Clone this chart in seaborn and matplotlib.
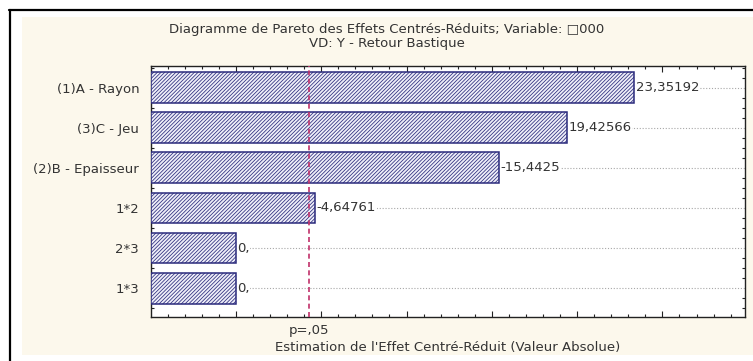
import matplotlib
matplotlib.use("Agg")
import matplotlib.pyplot as plt
import matplotlib.patches as mpatches
import matplotlib.lines as mlines
from matplotlib.ticker import MultipleLocator
import seaborn as sns
import pandas as pd
import numpy as np

# Effects from the fitted model (signed), largest first
factors = ["(1)A - Rayon", "(3)C - Jeu", "(2)B - Epaisseur", "1*2", "2*3", "1*3"]
effects = [23.35192, 19.42566, -15.4425, -4.64761, 0.0, 0.0]
value_labels = ["23,35192", "19,42566", "-15,4425", "-4,64761", "0,", "0,"]

# Critical t value for p = .05
p_critical = 4.303
p_label = "p=,05"

title_lines = [
    "Diagramme de Pareto des Effets Centrés-Réduits; Variable: \u25a1000",
    "VD: Y - Retour Bastique",
]
x_title = "Estimation de l'Effet Centré-Réduit (Valeur Absolue)"

df = pd.DataFrame({"factor": factors, "abs_effect": np.abs(effects)})

sns.set_theme(style="white")
plt.rcParams["font.family"] = ["DejaVu Sans"]
plt.rcParams["hatch.linewidth"] = 0.55

TEXT = "#333333"
NAVY = "#2a2a7c"
FS = 9.5

W, H = 753, 361
fig = plt.figure(figsize=(W / 100, H / 100), dpi=100)
fig.patch.set_facecolor("white")

# cream panel and the dark frame lines around the chart window
fig.add_artist(mpatches.Rectangle((22 / W, 1 - 355 / H), (W - 22) / W, (355 - 17) / H,
                                  transform=fig.transFigure, facecolor="#fcf8ec",
                                  edgecolor="none", zorder=-5))
fig.add_artist(mlines.Line2D([9 / W, 1], [1 - 10 / H] * 2, transform=fig.transFigure,
                             color="black", lw=1.6, zorder=-4))
fig.add_artist(mlines.Line2D([10 / W] * 2, [0, 1 - 10 / H], transform=fig.transFigure,
                             color="black", lw=1.6, zorder=-4))

ax = fig.add_axes([151 / W, 1 - 317 / H, (745 - 151) / W, (317 - 66) / H])
ax.set_facecolor("white")

xmin, xmax = -4.98, 29.84

sns.barplot(data=df, y="factor", x="abs_effect", orient="h", ax=ax,
            color="#eeeef8", saturation=1, edgecolor=NAVY, linewidth=1.1,
            hatch="/" * 9, width=0.77, zorder=3)

# bars are anchored on the left edge of the axis, ending at their value
for bar in ax.patches:
    right = bar.get_x() + bar.get_width()
    bar.set_x(xmin)
    bar.set_width(right - xmin)

ax.set_xlim(xmin, xmax)
ax.set_ylim(len(factors) - 1 + 0.72, -0.54)

# dotted guide lines through each bar row
ax.hlines(range(len(factors)), xmin, xmax, colors="#a8a8a8",
          linestyles=(0, (1, 1.6)), lw=0.8, zorder=1)

# value labels at the end of each bar
for i, (v, lab) in enumerate(zip(effects, value_labels)):
    ax.text(abs(v) + 0.08, i, lab, ha="left", va="center", fontsize=FS, color=TEXT,
            zorder=4, bbox=dict(facecolor="white", edgecolor="none", pad=0.4))

# significance threshold
ax.axvline(p_critical, color="#c0306a", ls=(0, (3, 2)), lw=1.2, zorder=5)
ax.annotate(p_label, xy=(p_critical, 0), xycoords=("data", "axes fraction"),
            xytext=(0, -9.5), textcoords="offset points", ha="center", va="center",
            fontsize=FS, color=TEXT, annotation_clip=False)

ax.set_xlabel("")
ax.set_ylabel("")

ax.xaxis.set_major_locator(MultipleLocator(5))
ax.xaxis.set_minor_locator(MultipleLocator(1))
ax.yaxis.set_minor_locator(MultipleLocator(0.25))
ax.tick_params(axis="x", which="both", direction="in", top=True, bottom=True,
               labelbottom=False, color="#222222", width=0.8)
ax.tick_params(axis="x", which="major", length=4)
ax.tick_params(axis="x", which="minor", length=2.5)
ax.tick_params(axis="y", which="both", direction="in", left=True, right=True,
               color="#222222", width=0.8)
ax.tick_params(axis="y", which="major", length=0, labelsize=FS, labelcolor=TEXT, pad=8.5)
ax.tick_params(axis="y", which="minor", length=2.5)

for s in ax.spines.values():
    s.set_color("#222222")
    s.set_linewidth(1.0)
    s.set_visible(True)

fig.text(387 / W, 1 - 30 / H, title_lines[0], ha="center", va="center",
         fontsize=FS, color=TEXT)
fig.text(387 / W, 1 - 44 / H, title_lines[1], ha="center", va="center",
         fontsize=FS, color=TEXT)
fig.text(448 / W, 1 - 347 / H, x_title, ha="center", va="center",
         fontsize=FS, color=TEXT)

fig.savefig("out.png", dpi=100)
